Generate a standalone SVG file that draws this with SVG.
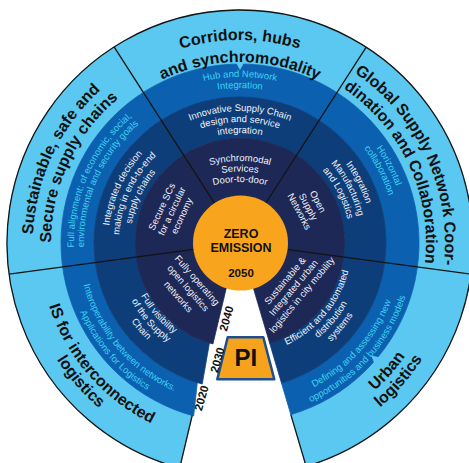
<svg xmlns="http://www.w3.org/2000/svg" width="469" height="463" viewBox="0 0 469 463">
<style>
text{font-family:"Liberation Sans",Arial,sans-serif;text-anchor:middle}
.title{font-size:16px;font-weight:bold;fill:#111}
.cy{font-size:9.5px;fill:#3cd2f2}
.wh{font-size:9.5px;fill:#eef2f8}
.ctr{font-weight:bold;fill:#111}
.yr{font-size:11.5px;font-weight:bold;fill:#111}
.div{stroke:#141414;stroke-width:1.3;fill:none}
.light{fill:#5ac8f0;stroke:#5ac8f0;stroke-width:0.8}
.med{fill:#0c60b0;stroke:#0c60b0;stroke-width:0.8}
.dark{fill:#0e3e7a;stroke:#0e3e7a;stroke-width:0.8}
.navy{fill:#1e2856;stroke:#1e2856;stroke-width:0.8}
</style>
<defs>
<path id="c203" d="M37 243 A203 203 0 0 1 443 243"/>
<path id="c181" d="M59 243 A181 181 0 0 1 421 243"/>
<path id="c207" d="M33 243 A207 207 0 0 1 447 243"/>
<path id="c189" d="M51 243 A189 189 0 0 1 429 243"/>
<path id="c205" d="M35 243 A205 205 0 0 1 445 243"/>
<path id="c186" d="M54 243 A186 186 0 0 1 426 243"/>
<path id="c166" d="M74 243 A166 166 0 0 1 406 243"/>
<path id="c155" d="M85 243 A155 155 0 0 1 395 243"/>
<path id="c156" d="M84 243 A156 156 0 0 1 396 243"/>
<path id="c132" d="M108 243 A132 132 0 0 1 372 243"/>
<path id="c121" d="M119 243 A121 121 0 0 1 361 243"/>
<path id="c110" d="M130 243 A110 110 0 0 1 350 243"/>
<path id="w201" d="M39 243 A201 201 0 0 0 441 243"/>
<path id="w217" d="M23 243 A217 217 0 0 0 457 243"/>
<path id="w200" d="M40 243 A200 200 0 0 0 440 243"/>
<path id="w216" d="M24 243 A216 216 0 0 0 456 243"/>
<path id="w162" d="M78 243 A162 162 0 0 0 402 243"/>
<path id="w174" d="M66 243 A174 174 0 0 0 414 243"/>
<path id="w112" d="M128 243 A112 112 0 0 0 352 243"/>
<path id="w123" d="M117 243 A123 123 0 0 0 363 243"/>
<path id="w134" d="M106 243 A134 134 0 0 0 374 243"/>
<path id="s1" d="M185 175.74 A110 110 0 0 1 295 175.74"/>
<path id="s2" d="M185 186.24 A110 110 0 0 1 295 186.24"/>
<path id="s3" d="M185 196.74 A110 110 0 0 1 295 196.74"/>
</defs>
<rect width="469" height="463" fill="#ffffff"/>
<g id="rings">
<path class="light" d="M192.17,415.48 L179.70,468.05 A233 233 0 1 1 306.17,466.40 L290.84,414.63 A179 179 0 1 0 192.17,415.48 Z"/>
<path class="med" d="M197.31,382.62 L193.67,415.90 A179 179 0 1 1 290.84,414.63 L281.46,382.98 A146 146 0 1 0 197.31,382.62 Z"/>
<path class="dark" d="M209.44,342.93 L202.22,384.02 A146 146 0 1 1 281.46,382.98 L269.68,343.19 A104.5 104.5 0 1 0 209.44,342.93 Z"/>
<path class="navy" d="M226.55,286.99 L212.95,343.94 A104.5 104.5 0 1 1 269.68,343.19 L253.06,287.10 A46 46 0 1 0 226.55,286.99 Z"/>
<polygon points="235,61 245,61 240,70" fill="#5ac8f0"/>
<polygon points="235,61 245,61 240,70" fill="#5ac8f0" transform="rotate(130.6 240 243)"/>
<path class="div" d="M192.17,415.48 L179.70,468.05 A233 233 0 1 1 306.17,466.40 L290.84,414.63"/>
</g>
<g id="dividers">
<line class="div" x1="214.6" y1="203.4" x2="114.1" y2="46.9"/>
<line class="div" x1="265.5" y1="203.5" x2="366.2" y2="47.1"/>
<line class="div" x1="286.6" y1="249.3" x2="470.9" y2="274.2"/>
<line class="div" x1="193.4" y1="249.3" x2="9.1" y2="274.2"/>
</g>
<g id="sector-corridors">
<text class="title"><textPath href="#c203" startOffset="50%">Corridors, hubs</textPath></text>
<text class="title"><textPath href="#c181" startOffset="50%">and synchromodality</textPath></text>
<text class="cy"><textPath href="#c166" startOffset="50%">Hub and Network</textPath></text>
<text class="cy"><textPath href="#c155" startOffset="50%">Integration</textPath></text>
<text class="wh"><textPath href="#c132" startOffset="50%">Innovative Supply Chain</textPath></text>
<text class="wh"><textPath href="#c121" startOffset="50%">design and service</textPath></text>
<text class="wh"><textPath href="#c110" startOffset="50%">integration</textPath></text>
<text class="wh" font-size="10"><textPath href="#s1" startOffset="50%">Synchromodal</textPath></text>
<text class="wh" font-size="10"><textPath href="#s2" startOffset="50%">Services</textPath></text>
<text class="wh" font-size="10"><textPath href="#s3" startOffset="50%">Door-to-door</textPath></text>
</g>
<g id="sector-global">
<text class="title" transform="rotate(65 240 243)"><textPath href="#c205" startOffset="50%">Global Supply Network Coor-</textPath></text>
<text class="title" transform="rotate(65 240 243)"><textPath href="#c186" startOffset="50%">dination and Collaboration</textPath></text>
<text class="cy" transform="rotate(62.5 240 243)"><textPath href="#c166" startOffset="50%">Horizontal</textPath></text>
<text class="cy" transform="rotate(62.5 240 243)"><textPath href="#c156" startOffset="50%">collaboration</textPath></text>
<text class="wh" transform="rotate(63 240 243)"><textPath href="#c132" startOffset="50%">Integration</textPath></text>
<text class="wh" transform="rotate(63 240 243)"><textPath href="#c121" startOffset="50%">Manufacturing</textPath></text>
<text class="wh" transform="rotate(63 240 243)"><textPath href="#c110" startOffset="50%">and Logistics</textPath></text>
<text class="wh" transform="translate(315.05,203.09) rotate(62)">Open</text>
<text class="wh" transform="translate(305.33,208.26) rotate(62)">Supply</text>
<text class="wh" transform="translate(296.51,212.95) rotate(62)">Networks</text>
</g>
<g id="sector-urban">
<text class="title" transform="rotate(-49 240 243)"><textPath href="#w200" startOffset="50%">Urban</textPath></text>
<text class="title" transform="rotate(-49 240 243)"><textPath href="#w216" startOffset="50%">logistics</textPath></text>
<text class="cy" transform="rotate(-48 240 243)"><textPath href="#w162" startOffset="50%">Defining and assessing new</textPath></text>
<text class="cy" transform="rotate(-48 240 243)"><textPath href="#w174" startOffset="50%">opportunities and business models</textPath></text>
<text class="wh" transform="rotate(-50 240 243)"><textPath href="#w112" startOffset="50%">Efficient and automated</textPath></text>
<text class="wh" transform="rotate(-50 240 243)"><textPath href="#w123" startOffset="50%">distribution</textPath></text>
<text class="wh" transform="rotate(-50 240 243)"><textPath href="#w134" startOffset="50%">systems</textPath></text>
<text class="wh" transform="translate(287.49,282.85) rotate(-50)">Sustainable &amp;</text>
<text class="wh" transform="translate(295.92,289.92) rotate(-50)">Integrated urban</text>
<text class="wh" transform="translate(304.34,296.99) rotate(-50)">logistics in city mobility</text>
</g>
<g id="sector-is">
<text class="title" transform="rotate(49 240 243)"><textPath href="#w201" startOffset="50%">IS for interconnected</textPath></text>
<text class="title" transform="rotate(49 240 243)"><textPath href="#w217" startOffset="50%">logistics</textPath></text>
<text class="cy" transform="rotate(49.5 240 243)"><textPath href="#w162" startOffset="50%">Interoperability between networks.</textPath></text>
<text class="cy" transform="rotate(49.5 240 243)"><textPath href="#w174" startOffset="50%">Applications for Logistics</textPath></text>
<text class="wh" transform="rotate(49 240 243)"><textPath href="#w112" startOffset="50%">Full visibility</textPath></text>
<text class="wh" transform="rotate(49 240 243)"><textPath href="#w123" startOffset="50%">of the Supply</textPath></text>
<text class="wh" transform="rotate(49 240 243)"><textPath href="#w134" startOffset="50%">Chain</textPath></text>
<text class="wh" transform="translate(194.72,282.37) rotate(49)">Fully operating</text>
<text class="wh" transform="translate(185.66,290.24) rotate(49)">open logistics</text>
<text class="wh" transform="translate(175.85,298.77) rotate(49)">networks</text>
</g>
<g id="sector-sustainable">
<text class="title" transform="rotate(-65 240 243)"><textPath href="#c207" startOffset="50%">Sustainable, safe and</textPath></text>
<text class="title" transform="rotate(-65 240 243)"><textPath href="#c189" startOffset="50%">Secure supply chains</textPath></text>
<text class="cy" transform="rotate(-66 240 243)"><textPath href="#c166" startOffset="50%">Full alignment: of economic, social,</textPath></text>
<text class="cy" transform="rotate(-66 240 243)"><textPath href="#c156" startOffset="50%">environmental and security goals</textPath></text>
<text class="wh" transform="rotate(-65 240 243)"><textPath href="#c132" startOffset="50%">Integrated decision</textPath></text>
<text class="wh" transform="rotate(-65 240 243)"><textPath href="#c121" startOffset="50%">making in end-to-end</textPath></text>
<text class="wh" transform="rotate(-65 240 243)"><textPath href="#c110" startOffset="50%">supply chains</textPath></text>
<text class="wh" transform="translate(164.78,207.92) rotate(-65)">Secure SCs</text>
<text class="wh" transform="translate(174.75,212.57) rotate(-65)">for a circular</text>
<text class="wh" transform="translate(184.72,217.22) rotate(-65)">economy</text>
</g>
<g id="center">
<circle cx="240.5" cy="243" r="47.5" fill="#f8a41c"/>
<text class="ctr" x="241" y="238" font-size="12.5">ZERO</text>
<text class="ctr" x="241" y="252" font-size="12.5">EMISSION</text>
<text class="ctr" x="241" y="277" font-size="11.5">2050</text>
</g>
<g id="pi">
<polygon points="227.7,337.3 263.3,337.3 274.3,379.3 217.3,379.3" fill="#f5a31c" stroke="#1f4e8e" stroke-width="2.5" stroke-linejoin="round"/>
<text class="ctr" x="245.8" y="366" font-size="24">PI</text>
</g>
<g id="timeline">
<text class="yr" transform="translate(226.5,318.5) rotate(-74)" y="4">2040</text>
<text class="yr" transform="translate(217.5,360) rotate(-74)" y="4">2030</text>
<text class="yr" transform="translate(201.5,398) rotate(-74)" y="4">2020</text>
</g>
</svg>
